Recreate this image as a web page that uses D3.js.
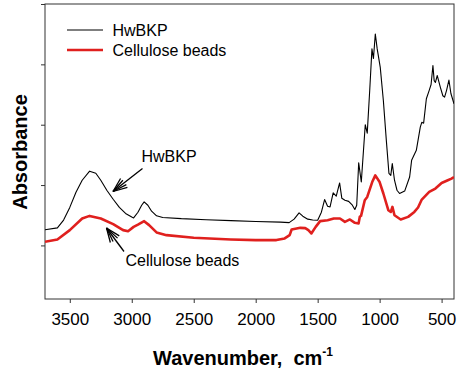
<!DOCTYPE html>
<html><head><meta charset="utf-8">
<script src="https://cdn.jsdelivr.net/npm/d3@7"></script>
<style>body{margin:0;background:#fff}svg{display:block}text{font-family:"Liberation Sans",Arial,sans-serif}</style>
</head><body>
<script>
const seriesNames = ["HwBKP", "Cellulose beads"];
const xTicks = [3500, 3000, 2500, 2000, 1500, 1000, 500];
const yTicks = [0, 0.1, 0.2, 0.3, 0.4];
const hwWave = [3700,3600,3550,3500,3450,3400,3340,3290,3250,3200,3150,3100,3050,3000,2985,2950,2920,2900,2870,2840,2800,2750,2600,2400,2200,2000,1800,1730,1690,1650,1620,1580,1540,1500,1470,1444,1420,1400,1375,1350,1323,1305,1280,1250,1220,1200,1185,1169,1148,1116,1100,1080,1062,1050,1035,1020,995,970,946,925,910,898,880,860,839,798,758,742,704,672,660,645,623,600,585,570,560,550,535,510,490,476,460,441,425,400];
const hwAbs = [0.026,0.029,0.042,0.063,0.088,0.108,0.123,0.1195,0.108,0.091,0.0765,0.063,0.053,0.047,0.0456,0.055,0.0666,0.072,0.0666,0.0567,0.049,0.0463,0.0443,0.0426,0.041,0.0397,0.0385,0.0377,0.0435,0.0539,0.0484,0.0435,0.042,0.0418,0.055,0.076,0.065,0.0638,0.087,0.0815,0.1035,0.078,0.0749,0.073,0.0666,0.0595,0.0666,0.137,0.105,0.2,0.186,0.257,0.3256,0.3096,0.3504,0.326,0.295,0.24,0.174,0.1195,0.116,0.1355,0.108,0.0914,0.086,0.09,0.1134,0.141,0.1575,0.196,0.204,0.2026,0.243,0.257,0.2666,0.298,0.273,0.27,0.2815,0.262,0.248,0.2456,0.257,0.274,0.2517,0.2347];
const cbWave = [3700,3600,3500,3400,3340,3250,3150,3070,3030,2985,2950,2900,2860,2800,2720,2500,2200,2000,1833,1766,1726,1710,1670,1640,1600,1575,1551,1516,1480,1420,1370,1320,1280,1240,1200,1170,1160,1150,1120,1100,1060,1035,1000,970,930,910,897,880,830,770,720,690,660,600,550,500,450,420,400];
const cbAbs = [0.006,0.0099,0.0253,0.0446,0.0489,0.0446,0.0352,0.0253,0.0236,0.0307,0.0344,0.0402,0.0336,0.0215,0.017,0.0126,0.0099,0.0088,0.0088,0.0116,0.017,0.0264,0.028,0.0291,0.0286,0.0253,0.0198,0.0307,0.0402,0.0418,0.0446,0.0446,0.039,0.043,0.0374,0.0364,0.0473,0.049,0.0749,0.0803,0.105,0.116,0.105,0.086,0.0583,0.0555,0.0638,0.05,0.043,0.0473,0.0555,0.0628,0.076,0.0886,0.0942,0.1035,0.108,0.1107,0.1134];

const W = 459, H = 371;
const svg = d3.select("body").append("svg").attr("width", W).attr("height", H);
const x = d3.scaleLinear().domain([3700, 400]).range([45, 454]);
const y = d3.scaleLinear().domain([-0.0888, 0.4]).range([299, 4]);

// axes
const xAxis = svg.append("g").attr("transform", "translate(0,299)")
  .call(d3.axisBottom(x).tickValues(xTicks).tickSize(4).tickPadding(10).tickFormat(d3.format("d")));
xAxis.select(".domain").remove();
xAxis.selectAll("line").attr("stroke", "#333");
xAxis.selectAll("text").attr("font-size", 17).attr("fill", "#000").attr("dy", "0.71em");
const yAxis = svg.append("g").attr("transform", "translate(45,0)")
  .call(d3.axisLeft(y).tickValues(yTicks).tickSize(4).tickFormat(""));
yAxis.select(".domain").remove();
yAxis.selectAll("line").attr("stroke", "#333");

// frame
svg.append("rect").attr("x", 45).attr("y", 4).attr("width", 409).attr("height", 295)
  .attr("fill", "none").attr("stroke", "#333").attr("stroke-width", 1);

const line = d3.line().x(d => x(d[0])).y(d => y(d[1]));
const clip = svg.append("clipPath").attr("id", "c").append("rect").attr("x", 45).attr("y", 4).attr("width", 409).attr("height", 295);
svg.append("path").datum(cbWave.map((w, i) => [w, cbAbs[i]]))
  .attr("d", line).attr("fill", "none").attr("stroke", "#e0201e").attr("stroke-width", 2.6).attr("stroke-linejoin", "round").attr("clip-path", "url(#c)");
svg.append("path").datum(hwWave.map((w, i) => [w, hwAbs[i]]))
  .attr("d", line).attr("fill", "none").attr("stroke", "#000").attr("stroke-width", 1.1).attr("stroke-linejoin", "round").attr("clip-path", "url(#c)");

// legend
const leg = svg.append("g");
leg.append("line").attr("x1", 67).attr("x2", 103).attr("y1", 30).attr("y2", 30).attr("stroke", "#000").attr("stroke-width", 1.1);
leg.append("text").attr("x", 112.5).attr("y", 35.5).attr("font-size", 16).text(seriesNames[0]);
leg.append("line").attr("x1", 67).attr("x2", 103).attr("y1", 50).attr("y2", 50).attr("stroke", "#e0201e").attr("stroke-width", 2.6);
leg.append("text").attr("x", 112.5).attr("y", 55.5).attr("font-size", 16).text(seriesNames[1]);

// annotations
function arrow(x1, y1, x2, y2) {
  const g = svg.append("g").attr("stroke", "#000").attr("stroke-width", 1.3).attr("fill", "none");
  g.append("line").attr("x1", x1).attr("y1", y1).attr("x2", x2).attr("y2", y2);
  const ang = Math.atan2(y1 - y2, x1 - x2);
  [-0.38, -0.19, 0.19, 0.38].forEach(a => {
    const L = 15;
    g.append("line").attr("x1", x2).attr("y1", y2)
      .attr("x2", x2 + L * Math.cos(ang + a)).attr("y2", y2 + L * Math.sin(ang + a));
  });
}
svg.append("text").attr("x", 141.5).attr("y", 161.5).attr("font-size", 16).text(seriesNames[0]);
arrow(142.5, 168.5, 113, 191.5);
svg.append("text").attr("x", 125.5).attr("y", 266).attr("font-size", 16).text(seriesNames[1]);
arrow(124, 251.5, 106.5, 228);

// axis titles
const xt = svg.append("text").attr("x", 153).attr("y", 365).attr("font-size", 20).attr("font-weight", "bold")
  .style("white-space", "pre");
xt.append("tspan").text("Wavenumber,\u00a0 cm");
xt.append("tspan").attr("dy", -9).attr("font-size", 12).text("-1");
svg.append("text").attr("transform", "translate(26.5,152) rotate(-90)").attr("text-anchor", "middle")
  .attr("font-size", 20).attr("font-weight", "bold").text("Absorbance");
</script>
</body></html>
